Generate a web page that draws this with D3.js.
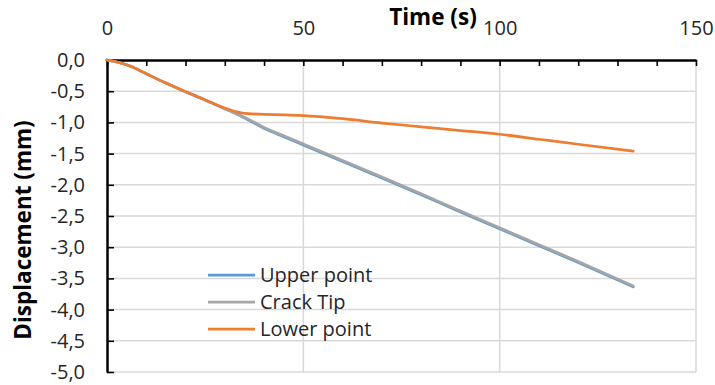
<!DOCTYPE html>
<html>
<head>
<meta charset="utf-8">
<script src="https://cdn.jsdelivr.net/npm/d3@7"></script>
<style>
  html, body { margin: 0; padding: 0; background: #fff; }
  svg { display: block; font-family: "Open Sans", sans-serif; }
</style>
</head>
<body>
<svg id="chart" width="715" height="385"></svg>
<script>
// Time samples (s) and displacement readings (mm) for the three monitored points
const time        = [0, 3, 6, 10, 15, 20, 25, 30, 33, 36, 40, 45, 50, 60, 70, 80, 90, 100, 110, 120, 134];
const upperPoint  = [0, -0.04, -0.10, -0.22, -0.37, -0.51, -0.64, -0.78, -0.865, -0.96, -1.095, -1.23, -1.36, -1.625, -1.89, -2.16, -2.435, -2.705, -2.975, -3.245, -3.635];
const crackTip    = [0, -0.04, -0.10, -0.22, -0.37, -0.51, -0.64, -0.78, -0.86, -0.95, -1.08, -1.215, -1.345, -1.61, -1.875, -2.145, -2.42, -2.69, -2.96, -3.23, -3.62];
const lowerPoint  = [0, -0.04, -0.10, -0.22, -0.37, -0.51, -0.64, -0.77, -0.83, -0.86, -0.87, -0.88, -0.89, -0.94, -1.01, -1.07, -1.13, -1.19, -1.27, -1.35, -1.46];

const seriesNames = ["Upper point", "Crack Tip", "Lower point"];
const seriesColors = ["#5B9BD5", "#A5A5A5", "#ED7D31"];
const seriesValues = [upperPoint, crackTip, lowerPoint];

const xMajorTicks = [0, 50, 100, 150];
const yTicks = [0, -0.5, -1, -1.5, -2, -2.5, -3, -3.5, -4, -4.5, -5];

const svg = d3.select("#chart");
const plotLeft = 107, plotRight = 696, plotTop = 60, plotBottom = 372;

const x = d3.scaleLinear().domain([0, 150]).range([plotLeft, plotRight]);
const y = d3.scaleLinear().domain([0, -5]).range([plotTop, plotBottom]);

const loc = d3.formatLocale({ decimal: ",", thousands: ".", grouping: [3], currency: ["", ""], minus: "-" });
const fmtY = loc.format(".1f");

// Gridlines
const grid = svg.append("g");
grid.selectAll("line.h").data(yTicks.filter(v => v !== 0)).join("line")
  .attr("class", "h")
  .attr("x1", plotLeft).attr("x2", plotRight)
  .attr("y1", d => y(d)).attr("y2", d => y(d))
  .attr("stroke", "#d9d9d9").attr("stroke-width", 1.5);
grid.selectAll("line.v").data(xMajorTicks.filter(v => v !== 0)).join("line")
  .attr("class", "v")
  .attr("x1", d => x(d)).attr("x2", d => x(d))
  .attr("y1", plotTop).attr("y2", plotBottom)
  .attr("stroke", "#d9d9d9").attr("stroke-width", 1.5);

// Top time axis: minor ticks every 10 s, labels on the multiples of 50
const xAxis = d3.axisTop(x)
  .tickValues(d3.range(0, 151, 10))
  .tickSizeInner(-6).tickSizeOuter(0).tickPadding(25)
  .tickFormat(d => xMajorTicks.includes(d) ? String(d) : "");
const gx = svg.append("g").attr("transform", `translate(0,${plotTop})`).call(xAxis);

// Left displacement axis
const yAxis = d3.axisLeft(y)
  .tickValues(yTicks)
  .tickSizeInner(-7).tickSizeOuter(0).tickPadding(22)
  .tickFormat(d => fmtY(d));
const gy = svg.append("g").attr("transform", `translate(${plotLeft},0)`).call(yAxis);

[gx, gy].forEach(g => {
  g.select(".domain").attr("stroke", "#000").attr("stroke-width", 2.5);
  g.selectAll(".tick line").attr("stroke", "#000").attr("stroke-width", 1.6);
  g.selectAll(".tick text").attr("fill", "#262626")
    .style("font-family", "'Open Sans', sans-serif").style("font-size", "20px");
});

// Series lines
const line = d3.line()
  .x((d, i) => x(time[i]))
  .y(d => y(d))
  .curve(d3.curveMonotoneX);

svg.append("g").selectAll("path").data(seriesValues).join("path")
  .attr("d", d => line(d))
  .attr("fill", "none")
  .attr("stroke", (d, i) => seriesColors[i])
  .attr("stroke-width", 2.75)
  .attr("stroke-linecap", "round")
  .attr("stroke-linejoin", "round");

// Axis titles
svg.append("text")
  .attr("x", 433).attr("y", 25)
  .attr("text-anchor", "middle")
  .style("font-size", "22.5px").style("font-weight", "bold")
  .attr("fill", "#000")
  .text("Time (s)");

svg.append("text")
  .attr("transform", "translate(31,230) rotate(-90)")
  .attr("text-anchor", "middle")
  .style("font-size", "22.5px").style("font-weight", "bold")
  .attr("fill", "#000")
  .text("Displacement (mm)");

// Legend
const legend = svg.append("g");
const legendY = [275, 302, 329];
seriesNames.forEach((name, i) => {
  legend.append("line")
    .attr("x1", 208).attr("x2", 255)
    .attr("y1", legendY[i]).attr("y2", legendY[i])
    .attr("stroke", seriesColors[i]).attr("stroke-width", 2.75);
  legend.append("text")
    .attr("x", 260).attr("y", legendY[i]).attr("dy", "0.35em")
    .style("font-size", "20px").attr("fill", "#262626")
    .text(name);
});
</script>
</body>
</html>
